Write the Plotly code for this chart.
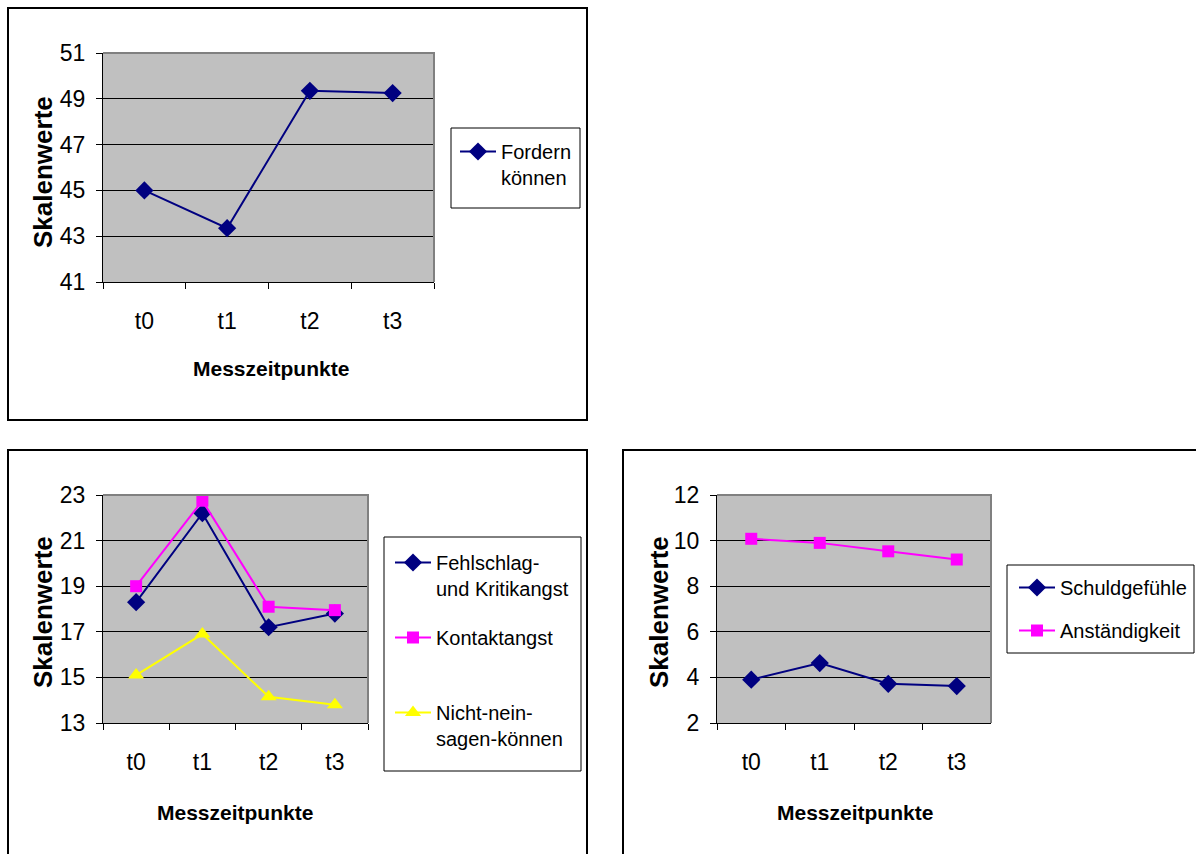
import plotly.graph_objects as go

W, H = 1196, 854

# ---------------- data ----------------
categories = ["t0", "t1", "t2", "t3"]

fordern_koennen = [45.0, 43.35, 49.35, 49.25]

fehlschlag_kritikangst = [18.3, 22.2, 17.2, 17.8]
kontaktangst = [19.0, 22.75, 18.1, 17.95]
nicht_nein_sagen = [15.1, 16.9, 14.15, 13.8]

schuldgefuehle = [3.9, 4.63, 3.72, 3.62]
anstaendigkeit = [10.08, 9.9, 9.53, 9.17]

y1_ticks = [41, 43, 45, 47, 49, 51]
y2_ticks = [13, 15, 17, 19, 21, 23]
y3_ticks = [2, 4, 6, 8, 10, 12]

y_title = "Skalenwerte"
x_title = "Messzeitpunkte"

NAVY = "#000080"
MAGENTA = "#FF00FF"
YELLOW = "#FFFF00"
GREY_BG = "#C0C0C0"

FONT = "Liberation Sans, Arial, sans-serif"


def px(x):
    return x / W


def py(y):
    return 1 - y / H


fig = go.Figure()

LW = 2
DIAMOND = dict(symbol="diamond", size=14)
SQUARE = dict(symbol="square", size=12)
TRIANGLE = dict(symbol="triangle-up", size=14)

# chart 1
fig.add_trace(go.Scatter(
    x=categories, y=fordern_koennen, name="Fordern<br>können",
    mode="lines+markers", line=dict(color=NAVY, width=LW),
    marker=dict(color=NAVY, **DIAMOND),
    xaxis="x", yaxis="y", legend="legend", legendgroup="a"))

# chart 2
fig.add_trace(go.Scatter(
    x=categories, y=fehlschlag_kritikangst, name="Fehlschlag-<br>und Kritikangst",
    mode="lines+markers", line=dict(color=NAVY, width=LW),
    marker=dict(color=NAVY, **DIAMOND),
    xaxis="x2", yaxis="y2", legend="legend2", legendgroup="b1"))
fig.add_trace(go.Scatter(
    x=categories, y=kontaktangst, name="Kontaktangst<br>&nbsp;",
    mode="lines+markers", line=dict(color=MAGENTA, width=LW),
    marker=dict(color=MAGENTA, **SQUARE),
    xaxis="x2", yaxis="y2", legend="legend2", legendgroup="b2"))
fig.add_trace(go.Scatter(
    x=categories, y=nicht_nein_sagen, name="Nicht-nein-<br>sagen-können",
    mode="lines+markers", line=dict(color=YELLOW, width=LW),
    marker=dict(color=YELLOW, **TRIANGLE),
    xaxis="x2", yaxis="y2", legend="legend2", legendgroup="b3"))

# chart 3
fig.add_trace(go.Scatter(
    x=categories, y=schuldgefuehle, name="Schuldgefühle",
    mode="lines+markers", line=dict(color=NAVY, width=LW),
    marker=dict(color=NAVY, **DIAMOND),
    xaxis="x3", yaxis="y3", legend="legend3", legendgroup="c1"))
fig.add_trace(go.Scatter(
    x=categories, y=anstaendigkeit, name="Anständigkeit",
    mode="lines+markers", line=dict(color=MAGENTA, width=LW),
    marker=dict(color=MAGENTA, **SQUARE),
    xaxis="x3", yaxis="y3", legend="legend3", legendgroup="c2"))

tick_font = dict(family=FONT, size=23, color="black")


def xaxis_cfg(x0, x1, anchor):
    return dict(domain=[px(x0), px(x1)], anchor=anchor, type="category",
                range=[-0.5, 3.5], showline=True, linecolor="black", linewidth=1,
                ticks="outside", tickson="boundaries", ticklen=6, tickcolor="black",
                showgrid=False, tickfont=tick_font, ticklabelstandoff=18,
                automargin=False, fixedrange=True)


def yaxis_cfg(y0, y1, anchor, ticks):
    return dict(domain=[py(y1), py(y0)], anchor=anchor,
                range=[ticks[0], ticks[-1]], tickvals=ticks,
                showline=True, linecolor="black", linewidth=1,
                ticks="outside", ticklen=6, tickcolor="black",
                showgrid=True, gridcolor="black", gridwidth=1, zeroline=False,
                tickfont=tick_font, ticklabelstandoff=6, automargin=False,
                fixedrange=True)


P1 = (103, 434, 53, 282)
P2 = (103, 368, 495, 723)
P3 = (717, 991, 495, 723)

layout = dict(
    width=W, height=H, margin=dict(l=0, r=0, t=0, b=0, autoexpand=False),
    paper_bgcolor="white", plot_bgcolor=GREY_BG,
    xaxis=xaxis_cfg(P1[0], P1[1], "y"), yaxis=yaxis_cfg(P1[2], P1[3], "x", y1_ticks),
    xaxis2=xaxis_cfg(P2[0], P2[1], "y2"), yaxis2=yaxis_cfg(P2[2], P2[3], "x2", y2_ticks),
    xaxis3=xaxis_cfg(P3[0], P3[1], "y3"), yaxis3=yaxis_cfg(P3[2], P3[3], "x3", y3_ticks),
)

legend_font = dict(family=FONT, size=20, color="black")


def legend_cfg(lx, ly, gap):
    return dict(x=lx / W, y=1 - ly / H, xref="container", yref="container",
                xanchor="left", yanchor="top", itemwidth=36,
                bgcolor="rgba(0,0,0,0)", borderwidth=0, font=legend_font,
                valign="top", tracegroupgap=gap, itemclick=False, itemdoubleclick=False)


layout["legend"] = legend_cfg(455, 132, 10)
layout["legend2"] = legend_cfg(390, 543, 20)
layout["legend3"] = legend_cfg(1014, 568, 14)
fig.update_layout(**layout)
fig.update_layout(showlegend=True)

shapes = []
# outer chart frames
for (x0, y0, x1, y1) in [(8, 8, 587, 420), (8, 450, 587, 880), (623, 450, 1220, 880)]:
    shapes.append(dict(type="rect", xref="paper", yref="paper",
                       x0=px(x0), x1=px(x1), y0=py(y0), y1=py(y1),
                       line=dict(color="black", width=2), fillcolor="rgba(0,0,0,0)"))
# legend frames
for (x0, y0, x1, y1) in [(451, 128, 580, 208), (384, 537, 581, 771), (1007, 565, 1194, 653)]:
    shapes.append(dict(type="rect", xref="paper", yref="paper",
                       x0=px(x0), x1=px(x1), y0=py(y0), y1=py(y1),
                       line=dict(color="black", width=1), fillcolor="rgba(0,0,0,0)"))
# grey top/right plot borders
for (x0, x1, y0, y1) in [P1, P2, P3]:
    shapes.append(dict(type="path", xref="paper", yref="paper",
                       path=f"M {px(x0)} {py(y0)} L {px(x1)} {py(y0)} L {px(x1)} {py(y1)}",
                       line=dict(color="#808080", width=2)))
fig.update_layout(shapes=shapes)

annotations = []
for (cx, cy) in [(43, 172), (43, 612), (659, 612)]:
    annotations.append(dict(text=f"<b>{y_title}</b>", x=px(cx), y=py(cy), xref="paper", yref="paper",
                            showarrow=False, textangle=-90, xanchor="center", yanchor="middle",
                            font=dict(family=FONT, size=26, color="black")))
for (cx, cy) in [(271, 368), (235, 812), (855, 812)]:
    annotations.append(dict(text=f"<b>{x_title}</b>", x=px(cx), y=py(cy), xref="paper", yref="paper",
                            showarrow=False, xanchor="center", yanchor="middle",
                            font=dict(family=FONT, size=21, color="black")))
fig.update_layout(annotations=annotations)

fig.write_html("out.html")
